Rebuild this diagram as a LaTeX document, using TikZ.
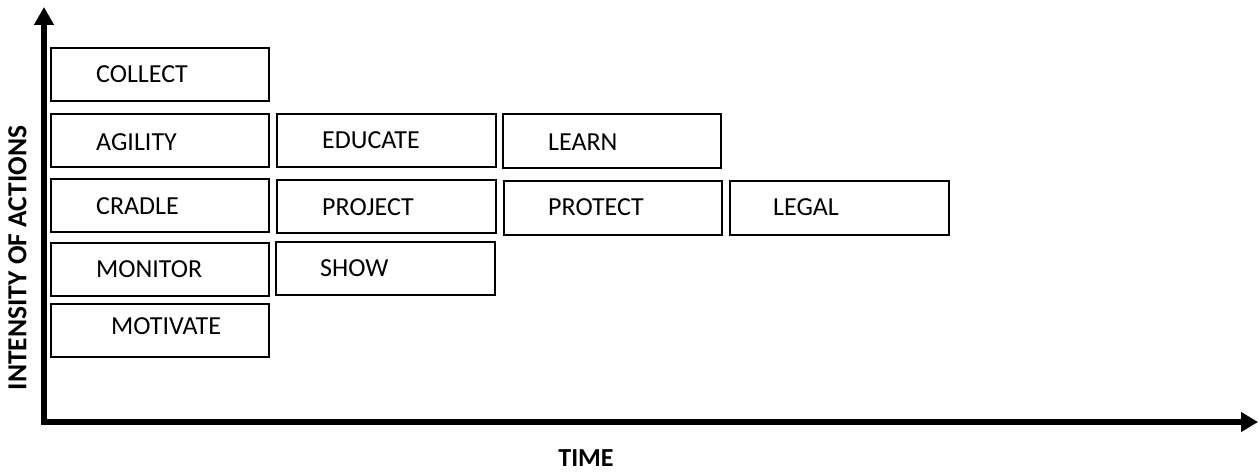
\documentclass[tikz,border=0pt]{standalone}
\usepackage{fontspec}
\setmainfont{Carlito}
\usetikzlibrary{arrows.meta}

\tikzset{
  box/.style={draw=black, line width=2pt, minimum width=218pt, minimum height=53pt,
              inner sep=0pt},
  lbl/.style={anchor=west, inner sep=0pt, text height=16.5pt, text depth=0pt,
              font=\fontsize{26}{30}\selectfont},
  axis/.style={line width=5.5pt, line join=miter},
  axislbl/.style={inner sep=0pt, font=\fontsize{26}{30}\selectfont\bfseries}
}

\begin{document}
\begin{tikzpicture}[x=1pt, y=-1pt]
  \useasboundingbox (0,0) rectangle (1259,473);

  % axes
  \coordinate (origin) at (44,422);
  \coordinate (ytop) at (44,7);
  \coordinate (xend) at (1258,422);
  \draw[axis, {Triangle[width=19pt,length=18pt]}-{Triangle[width=19pt,length=17pt]}]
    (ytop) -- (origin) -- (xend);

  \node[axislbl, rotate=90, font=\fontsize{27.5}{30}\selectfont\bfseries] (ylabel)
    at (17.5,258) {INTENSITY OF ACTIONS};
  \node[axislbl] (xlabel) at (586,458) {TIME};

  % first column
  \node[box] (collect)  at (160,74.5)  {};
  \node[box] (agility)  at (160,141)   {};
  \node[box] (cradle)   at (160,205.5) {};
  \node[box] (monitor)  at (159.5,269.5) {};
  \node[box] (motivate) at (159.5,330.5) {};

  % second column
  \node[box, minimum width=219pt] (educate) at (386.5,140.5) {};
  \node[box, minimum width=219pt] (project) at (386.5,206.5) {};
  \node[box, minimum width=219pt] (show)    at (385.5,268.5) {};

  % third and fourth columns
  \node[box, minimum height=54pt] (learn)   at (612,141) {};
  \node[box, minimum height=54pt] (protect) at (613,208) {};
  \node[box, minimum width=219pt, minimum height=54pt] (legal) at (839.5,208) {};

  % captions
  \node[lbl] (collect-t)  at (96,74)   {COLLECT};
  \node[lbl] (agility-t)  at (96,142)  {AGILITY};
  \node[lbl] (cradle-t)   at (96,206)  {CRADLE};
  \node[lbl] (monitor-t)  at (96,269)  {MONITOR};
  \node[lbl] (motivate-t) at (111,326) {MOTIVATE};
  \node[lbl] (educate-t)  at (322,140) {EDUCATE};
  \node[lbl] (project-t)  at (322,207) {PROJECT};
  \node[lbl] (show-t)     at (320,268) {SHOW};
  \node[lbl] (learn-t)    at (548,142) {LEARN};
  \node[lbl] (protect-t)  at (548,207) {PROTECT};
  \node[lbl] (legal-t)    at (773,207) {LEGAL};
\end{tikzpicture}
\end{document}
